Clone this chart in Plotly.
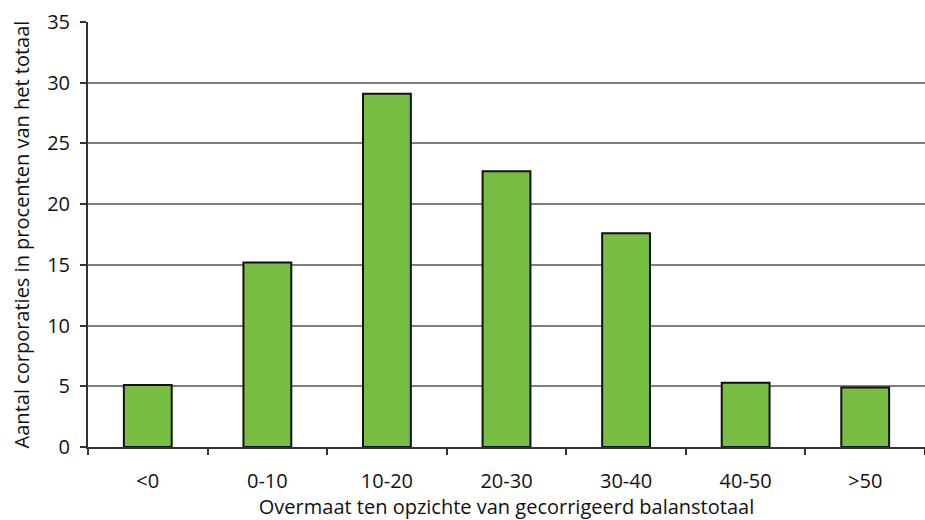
import plotly.graph_objects as go

# Distribution of corporaties by surplus relative to corrected balance sheet total
categories = ["<0", "0-10", "10-20", "20-30", "30-40", "40-50", ">50"]
percentages = [5.1, 15.2, 29.1, 22.7, 17.6, 5.3, 4.9]

y_ticks = [0, 5, 10, 15, 20, 25, 30, 35]

FONT = "Open Sans"

fig = go.Figure(
    go.Bar(
        x=categories,
        y=percentages,
        marker=dict(color="#78BE43", line=dict(color="#111111", width=2)),
        width=0.4,
        hoverinfo="x+y",
    )
)

fig.update_layout(
    width=925,
    height=520,
    margin=dict(l=88, r=0, t=22, b=73),
    paper_bgcolor="white",
    plot_bgcolor="white",
    font=dict(family=FONT, size=20, color="#111111"),
    showlegend=False,
)

fig.update_xaxes(
    type="category",
    showline=True,
    linecolor="#333333",
    linewidth=2,
    ticks="outside",
    tickson="boundaries",
    ticklen=6,
    tickwidth=1.5,
    tickcolor="#333333",
    showgrid=False,
    tickfont=dict(size=20),
    ticklabelstandoff=15,
    title=dict(text="Overmaat ten opzichte van gecorrigeerd balanstotaal",
               font=dict(size=20), standoff=6),
)

fig.update_yaxes(
    range=[0, 35],
    tickvals=y_ticks,
    showline=True,
    linecolor="#333333",
    linewidth=2,
    ticks="outside",
    ticklen=6,
    tickwidth=1.5,
    tickcolor="#333333",
    showgrid=True,
    gridcolor="#7F7F7F",
    gridwidth=1.5,
    zeroline=False,
    tickfont=dict(size=20),
    ticklabelstandoff=6,
    title=dict(text="Aantal corporaties in procenten van het totaal",
               font=dict(size=20), standoff=12),
)

fig.write_html("out.html")
